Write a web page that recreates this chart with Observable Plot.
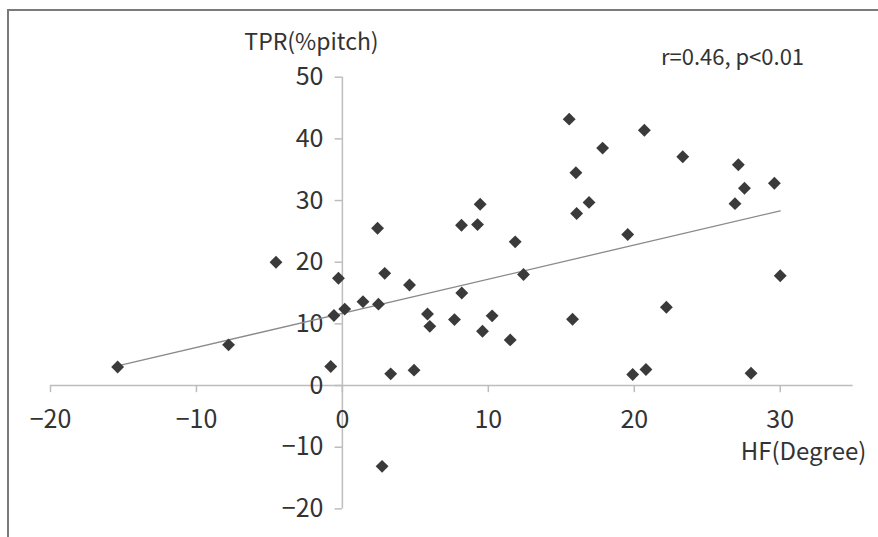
<!DOCTYPE html>
<html>
<head>
<meta charset="utf-8">
<script src="https://cdn.jsdelivr.net/npm/d3@7"></script>
<script src="https://cdn.jsdelivr.net/npm/@observablehq/plot@0.6"></script>
<style>
  html, body { margin: 0; padding: 0; background: #fff; }
  #wrap { position: relative; width: 878px; height: 537px; overflow: hidden; }
  #border { position: absolute; left: 7px; top: 9px; right: -5px; bottom: -5px;
    border-top: 2px solid #7a7a7a; border-left: 2px solid #7a7a7a; pointer-events: none; }
</style>
</head>
<body>
<div id="wrap"><div id="border"></div></div>
<script>
// HF (degree) and TPR (% pitch)
const hf = [-15.4, -7.8, -4.55, -0.8, -0.58, -0.27, 0.16, 1.41, 2.47, 2.41, 2.9, 2.72, 3.31, 4.6, 4.91,
  5.83, 5.99, 7.68, 8.16, 8.18, 9.26, 9.44, 9.6, 10.26, 11.5, 11.84, 12.41, 15.54, 15.77, 16.0,
  16.05, 16.9, 17.83, 19.55, 19.89, 20.69, 20.8, 22.2, 23.32, 26.9, 27.13, 27.55, 28.0, 29.6, 30.0];
const tpr = [3.0, 6.6, 20.0, 3.1, 11.35, 17.4, 12.4, 13.6, 13.2, 25.5, 18.2, -13.1, 1.9, 16.3, 2.5,
  11.6, 9.6, 10.7, 26.0, 15.0, 26.1, 29.4, 8.8, 11.3, 7.4, 23.3, 18.0, 43.2, 10.75, 34.5,
  27.9, 29.7, 38.5, 24.5, 1.8, 41.4, 2.6, 12.7, 37.1, 29.5, 35.8, 32.0, 2.0, 32.8, 17.8];

const xTicks = [-20, -10, 0, 10, 20, 30];
const xTickLabels = ["\u221220", "\u221210", "0", "10", "20", "30"];
const yTicks = [-20, -10, 0, 10, 20, 30, 40, 50];
const yTickLabels = ["\u221220", "\u221210", "0", "10", "20", "30", "40", "50"];

const xTitle = "HF(Degree)";
const yTitle = "TPR(%pitch)";
const stat = "r=0.46, p<0.01";

const points = hf.map((x, i) => ({x, y: tpr[i]}));
const FONT = "'Noto Sans CJK JP', 'Noto Sans', sans-serif";
const ink = "#333";
const axisColor = "#bdbdbd";

const chart = Plot.plot({
  width: 878,
  height: 537,
  margin: 0,
  style: {background: "transparent", fontFamily: FONT, color: ink, overflow: "visible"},
  x: {domain: [-20, 35], range: [50, 852.7], axis: null},
  y: {domain: [-20, 50], range: [508.4, 76.7], axis: null},
  marks: [
    // axes through the origin
    Plot.ruleY([0], {x1: -20, x2: 35, stroke: axisColor, strokeWidth: 1.5}),
    Plot.ruleX([0], {y1: -20, y2: 50, stroke: axisColor, strokeWidth: 1.5}),
    // tick marks
    Plot.ruleX(xTicks, {x: d => d, y1: 0, y2: -1.15, stroke: axisColor, strokeWidth: 1.5}),
    Plot.ruleY(yTicks, {y: d => d, x1: 0, x2: -0.5, stroke: axisColor, strokeWidth: 1.5}),
    // tick labels
    Plot.text(xTicks, {x: d => d, y: 0, text: (d, i) => xTickLabels[i], dy: 34,
      fontSize: 25, fill: ink, textAnchor: "middle", lineAnchor: "middle"}),
    Plot.text(yTicks, {x: 0, y: d => d, text: (d, i) => yTickLabels[i], dx: -19,
      fontSize: 25, fill: ink, textAnchor: "end", lineAnchor: "middle"}),
    // regression line
    Plot.linearRegressionY(points, {x: "x", y: "y", ci: 0, stroke: "#8a8a8a", strokeWidth: 1.3}),
    // data points
    Plot.dot(points, {x: "x", y: "y", symbol: "diamond2", r: 5.8, fill: "#3a3a3a", stroke: "none"}),
    // titles
    Plot.text([yTitle], {frameAnchor: "top-left", dx: 311, dy: 42, text: d => d,
      fontSize: 23, fill: ink, textAnchor: "middle", lineAnchor: "middle"}),
    Plot.text([stat], {frameAnchor: "top-left", dx: 732, dy: 57, text: d => d,
      fontSize: 22, fill: ink, textAnchor: "middle", lineAnchor: "middle"}),
    Plot.text([xTitle], {frameAnchor: "top-left", dx: 803, dy: 452, text: d => d,
      fontSize: 24, fill: ink, textAnchor: "middle", lineAnchor: "middle"})
  ]
});
document.getElementById("wrap").prepend(chart);
</script>
</body>
</html>
